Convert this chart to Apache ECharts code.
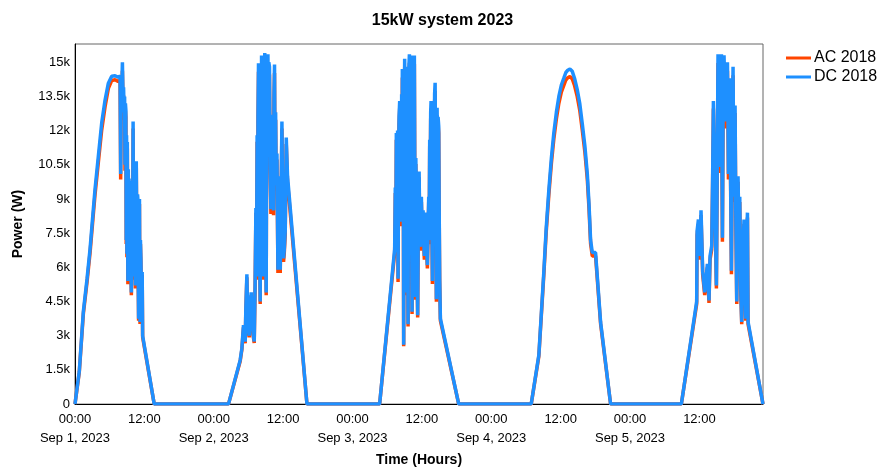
<!DOCTYPE html>
<html>
<head>
<meta charset="utf-8">
<title>15kW system 2023</title>
<script src="https://cdn.jsdelivr.net/npm/echarts@6/dist/echarts.min.js"></script>
<style>
    html, body { margin: 0; padding: 0; background: #fff; }
    #chart { width: 885px; height: 472px; }
</style>
</head>
<body>
<div id="chart"></div>
<script>
// hours counted from Sep 1, 2023 00:00; power in W
const DAY1_HOURS = [0, 0.74, 1.44, 2.08, 2.6, 3.1, 3.46, 4.03, 4.62, 5.2, 5.77, 6.35, 6.93, 7.45,
    7.8, 7.9, 8.0, 8.1, 8.2, 8.3, 8.4, 8.5, 8.58, 8.65, 8.72, 8.8, 8.86, 8.92, 8.98, 9.05, 9.1, 9.15, 9.22, 9.28,
    9.35, 9.42, 9.5, 9.55, 9.6, 9.68, 9.75, 9.82, 9.9, 9.96, 10.05, 10.1, 10.15, 10.22, 10.3, 10.38, 10.45, 10.52,
    10.6, 10.68, 10.75, 10.82, 10.9, 10.95, 11.0, 11.08, 11.15, 11.2, 11.25, 11.32, 11.4, 11.48, 11.55, 11.62, 11.7, 13.7];
const DAY1_DC = [0, 1440, 4050, 5490, 6800, 8330, 9420, 10860, 12340, 13340, 14080, 14390, 14410, 14340,
    14390, 10100, 14300, 13900, 15000, 13600, 13900, 12800, 13500, 10500, 13200, 12900, 7200, 11800, 6600, 11500, 8000, 5400, 10300, 6600,
    9900, 6200, 9600, 7000, 9800, 5800, 4900, 9200, 8800, 6400, 12400, 7800, 5600, 9500, 9000, 6600, 5200, 8600,
    10650, 7400, 6000, 9200, 8900, 5200, 3750, 7600, 9000, 5800, 3600, 7200, 6400, 4900, 4200, 5800, 3000, 0];
const DAY1_AC = [0, 1400, 3950, 5350, 6630, 8120, 9180, 10590, 12030, 13050, 13850, 14200, 14230, 14160,
    14200, 9850, 13940, 13550, 14620, 13260, 13550, 12480, 13160, 10240, 12870, 12580, 7020, 11500, 6440, 11210, 7800, 5260, 10040, 6440,
    9650, 6040, 9360, 6830, 9550, 5660, 4780, 8970, 8580, 6240, 12090, 7610, 5460, 9260, 8780, 6440, 5070, 8390,
    10380, 7220, 5850, 8970, 8680, 5070, 3660, 7410, 8780, 5660, 3510, 7020, 6240, 4780, 4100, 5660, 2930, 0];

const DAY2_HOURS = [26.55, 28.57, 28.86, 29.14, 29.3, 29.44, 29.55, 29.73, 29.85, 30.0, 30.13, 30.3, 30.48, 30.6, 30.8, 31.0, 31.15,
    31.29, 31.4, 31.5, 31.57, 31.65, 31.74, 31.82, 31.9, 31.96, 32.03, 32.1, 32.2, 32.27, 32.33, 32.42, 32.5, 32.6, 32.68, 32.75,
    32.82, 32.9, 32.98, 33.07, 33.15, 33.22, 33.3, 33.37, 33.45, 33.52, 33.64, 33.75, 33.89, 34.0, 34.1, 34.23, 34.34, 34.42,
    34.51, 34.6, 34.7, 34.8, 34.93, 35.1, 35.2, 35.3, 35.38, 35.5, 35.6, 35.79, 35.9, 36.07, 36.2, 36.36, 36.54, 36.76, 40.12];
const DAY2_DC = [0, 1930, 2440, 3460, 3200, 2740, 4200, 5700, 4000, 3300, 3000, 4400, 4900, 3900, 3100, 2750, 5200,
    8600, 6000, 11800, 5600, 12600, 14950, 7200, 13800, 6200, 4500, 12900, 9000, 15300, 15350, 8200, 13500, 5600, 14200, 9500,
    15400, 15400, 7800, 4900, 12800, 15300, 11000, 15350, 12400, 15000, 14800, 10500, 8550, 12700, 8700, 11300, 8500, 13600,
    14900, 10200, 12800, 9600, 11000, 5900, 8800, 7000, 10000, 5900, 8200, 12400, 9000, 6400, 6800, 7600, 11700, 10000, 0];
const DAY2_AC = [0, 1880, 2380, 3370, 3120, 2670, 4100, 5560, 3900, 3220, 2930, 4290, 4780, 3800, 3020, 2680, 5070,
    8390, 5850, 11510, 5460, 12290, 14580, 7020, 13460, 6050, 4390, 12580, 8780, 14920, 14970, 8000, 13160, 5460, 13850, 9260,
    15020, 15020, 7610, 4780, 12480, 14920, 10730, 14970, 12090, 14630, 14430, 10240, 8340, 12380, 8480, 11020, 8290, 13260,
    14530, 9950, 12480, 9360, 10730, 5750, 8580, 6830, 9750, 5750, 8000, 12090, 8780, 6240, 6630, 7410, 11410, 9750, 0];

const DAY3_HOURS = [52.69, 55.29, 55.4, 55.5, 55.58, 55.7, 55.8, 55.88, 55.96, 56.05, 56.16, 56.25, 56.32, 56.4, 56.5, 56.56,
    56.62, 56.7, 56.78, 56.85, 56.92, 57.02, 57.1, 57.2, 57.28, 57.37, 57.45, 57.52, 57.61, 57.7, 57.77, 57.84, 57.92, 58.0,
    58.06, 58.13, 58.2, 58.3, 58.38, 58.48, 58.56, 58.63, 58.7, 58.78, 58.87, 58.95, 59.05, 59.15, 59.27, 59.38, 59.52, 59.62,
    59.74, 59.82, 59.91, 60.05, 60.21, 60.32, 60.43, 60.55, 60.66, 60.8, 60.95, 61.05, 61.18, 61.26, 61.35, 61.45, 61.52, 61.59,
    61.7, 61.82, 61.9, 61.97, 62.04, 62.12, 62.2, 62.29, 62.4, 62.51, 62.57, 62.63, 62.72, 62.8, 62.91, 63.0, 63.08, 63.2, 66.37];
const DAY3_DC = [0, 6800, 9500, 7600, 11900, 8700, 12000, 5500, 10400, 12600, 13300, 9800, 12800, 8000, 13600, 10500,
    14700, 9200, 12500, 2600, 11000, 15150, 12600, 14800, 9800, 4900, 13200, 10400, 3500, 12600, 14900, 15350, 11200, 15200,
    12000, 15300, 9200, 4050, 11800, 6500, 13400, 10800, 15300, 9600, 4700, 10800, 8850, 6200, 3900, 8000, 10200, 7800,
    6900, 8300, 9100, 7600, 8500, 7200, 6500, 7900, 8400, 7000, 6100, 7400, 9100, 7200, 11600, 10100, 12800, 13300,
    9000, 5400, 11500, 9400, 13200, 11000, 13600, 14100, 8800, 4600, 9800, 13000, 10600, 12600, 12200, 8200, 5500, 3750, 0];
const DAY3_AC = [0, 6630, 9260, 7410, 11600, 8480, 11700, 5360, 10140, 12290, 12970, 9560, 12480, 7800, 13260, 10240,
    14330, 8970, 12190, 2540, 10730, 14770, 12290, 14430, 9560, 4780, 12870, 10140, 3410, 12290, 14530, 14970, 10920, 14820,
    11700, 14920, 8970, 3950, 11510, 6340, 13070, 10530, 14920, 9360, 4580, 10530, 8630, 6050, 3800, 7800, 9950, 7610,
    6730, 8090, 8870, 7410, 8290, 7020, 6340, 7700, 8190, 6830, 5950, 7220, 8870, 7020, 11310, 9850, 12480, 12970,
    8780, 5270, 11210, 9170, 12870, 10730, 13260, 13750, 8580, 4490, 9560, 12680, 10340, 12290, 11900, 8000, 5360, 3660, 0];

const DAY4_HOURS = [78.91, 80.23, 81.09, 81.5, 81.96, 82.4, 82.82, 83.26, 83.69, 84.12, 84.55, 84.9, 85.24, 85.6,
    86.01, 86.4, 86.87, 87.3, 87.74, 88.2, 88.61, 88.9, 89.18, 89.47, 90.04, 90.91, 92.64];
const DAY4_DC = [0, 2150, 5800, 7700, 9400, 10800, 11900, 12800, 13500, 14000, 14300, 14550, 14650, 14700,
    14600, 14300, 13800, 13200, 12300, 11300, 10100, 8800, 7200, 6650, 6650, 3600, 0];
const DAY4_AC = [0, 2100, 5670, 7530, 9190, 10560, 11630, 12510, 13200, 13690, 13980, 14220, 14320, 14370,
    14270, 13980, 13490, 12900, 12020, 11040, 9870, 8600, 7040, 6500, 6500, 3520, 0];

const DAY5_HOURS = [104.88, 107.53, 107.6, 107.83, 108.1, 108.28, 108.57, 108.92, 109.38, 109.66, 109.84, 110.13, 110.28,
    110.42, 110.7, 110.94, 111.22, 111.35, 111.52, 111.65, 111.81, 111.9, 111.98, 112.1, 112.26, 112.4, 112.55, 112.7,
    112.85, 112.94, 113.02, 113.12, 113.25, 113.4, 113.54, 113.68, 113.82, 113.9, 113.99, 114.08, 114.17, 114.3, 114.46,
    114.58, 114.68, 114.82, 114.98, 115.15, 115.32, 115.5, 115.72, 115.88, 116.02, 116.15, 116.31, 116.42, 119];
const DAY5_DC = [0, 4500, 7600, 8100, 6500, 8500, 5800, 4900, 6150, 4550, 6500, 6950, 9800,
    13300, 13300, 5200, 15350, 12000, 10400, 14200, 15350, 11000, 7300, 13200, 15300, 13600, 12400, 14600,
    15000, 12800, 10100, 13000, 14300, 9800, 5850, 11000, 14800, 11800, 9100, 11500, 13100, 8200, 4500,
    8400, 10000, 7800, 9100, 5050, 3600, 6600, 8100, 5600, 3750, 6900, 8400, 3600, 0];
const DAY5_AC = [0, 4390, 7410, 7900, 6340, 8290, 5660, 4780, 6000, 4440, 6340, 6780, 9560,
    12970, 12970, 5070, 14970, 11700, 10140, 13850, 14970, 10730, 7120, 12870, 14920, 13260, 12090, 14240,
    14630, 12480, 9850, 12680, 13940, 9560, 5700, 10730, 14430, 11510, 8870, 11210, 12770, 8000, 4390,
    8190, 9750, 7610, 8870, 4920, 3510, 6440, 7900, 5460, 3660, 6730, 8190, 3510, 0];

const DATE_LABELS = ['Sep 1, 2023', 'Sep 2, 2023', 'Sep 3, 2023', 'Sep 4, 2023', 'Sep 5, 2023'];
const SERIES_NAMES = ['AC 2018', 'DC 2018'];
const COLORS = ['#FF4500', '#1E90FF'];

const FONT = '"Liberation Sans", Arial, sans-serif';

function pairs(hoursList, valuesList) {
    const out = [];
    hoursList.forEach((hours, d) => {
        hours.forEach((h, i) => out.push([h, valuesList[d][i]]));
    });
    return out;
}

const allHours = [DAY1_HOURS, DAY2_HOURS, DAY3_HOURS, DAY4_HOURS, DAY5_HOURS];
const acData = pairs(allHours, [DAY1_AC, DAY2_AC, DAY3_AC, DAY4_AC, DAY5_AC]);
const dcData = pairs(allHours, [DAY1_DC, DAY2_DC, DAY3_DC, DAY4_DC, DAY5_DC]);

function formatHour(h) {
    if (h % 12 !== 0) {
        return '';
    }
    if (h % 24 === 0) {
        return `00:00\n${DATE_LABELS[h / 24]}`;
    }
    return '12:00';
}

function formatPower(v) {
    if (v % 1500 !== 0) {
        return '';
    }
    return v === 0 ? '0' : `${v / 1000}k`;
}

const chart = echarts.init(document.getElementById('chart'));
chart.setOption({
    animation: false,
    textStyle: { fontFamily: FONT },
    title: {
        text: '15kW system 2023',
        left: 'center',
        top: 8,
        textStyle: { fontFamily: FONT, fontSize: 16, fontWeight: 'bold', color: '#000' }
    },
    legend: {
        orient: 'vertical',
        left: 781,
        top: 45,
        itemGap: 3,
        itemWidth: 25,
        itemHeight: 3,
        icon: 'rect',
        itemStyle: { borderWidth: 0 },
        textStyle: { fontFamily: FONT, fontSize: 16, color: '#000', padding: [0, 0, 0, -2] },
        data: SERIES_NAMES
    },
    grid: {
        left: 75,
        right: 122,
        top: 44,
        bottom: 66,
        show: true,
        borderColor: '#666',
        borderWidth: 1,
        containLabel: false
    },
    xAxis: {
        type: 'value',
        min: 0,
        max: 119,
        interval: 12,
        name: 'Time (Hours)',
        nameLocation: 'middle',
        nameGap: 48,
        nameTextStyle: { fontFamily: FONT, fontSize: 14, fontWeight: 'bold', color: '#000' },
        axisLine: { show: true, lineStyle: { color: '#000' } },
        axisTick: { show: false },
        splitLine: { show: false },
        axisLabel: {
            fontFamily: FONT,
            fontSize: 13,
            color: '#000',
            margin: 6,
            lineHeight: 19,
            showMaxLabel: false,
            formatter: formatHour
        }
    },
    yAxis: {
        type: 'value',
        min: 0,
        max: 15800,
        interval: 1500,
        name: 'Power (W)',
        nameLocation: 'middle',
        nameGap: 50,
        nameTextStyle: { fontFamily: FONT, fontSize: 14, fontWeight: 'bold', color: '#000' },
        axisLine: { show: true, lineStyle: { color: '#000' } },
        axisTick: { show: false },
        splitLine: { show: false },
        axisLabel: {
            fontFamily: FONT,
            fontSize: 13,
            color: '#000',
            margin: 5,
            showMaxLabel: false,
            formatter: formatPower
        }
    },
    series: [
        {
            name: SERIES_NAMES[0],
            type: 'line',
            data: acData,
            showSymbol: false,
            symbol: 'none',
            sampling: null,
            color: COLORS[0],
            lineStyle: { width: 3.5, color: COLORS[0] }
        },
        {
            name: SERIES_NAMES[1],
            type: 'line',
            data: dcData,
            showSymbol: false,
            symbol: 'none',
            sampling: null,
            color: COLORS[1],
            lineStyle: { width: 3.5, color: COLORS[1] }
        }
    ]
});

window.addEventListener('resize', () => chart.resize());
</script>
</body>
</html>
